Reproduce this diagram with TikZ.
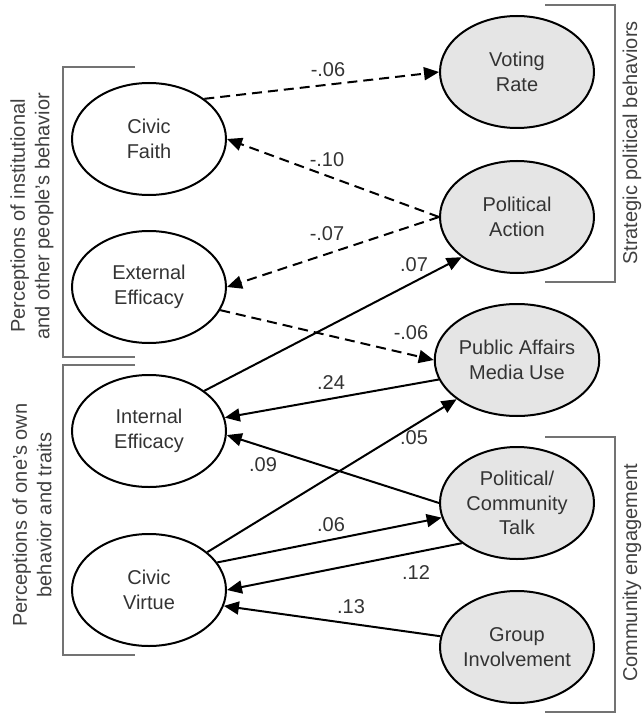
\documentclass[tikz,border=0pt]{standalone}
\usepackage{fontspec}
\setmainfont{Liberation Sans}
\usetikzlibrary{shapes.geometric,arrows.meta}
\begin{document}
\begin{tikzpicture}[x=1pt,y=-1pt,
  font=\fontsize{20}{24.5}\selectfont,
  var/.style={ellipse,draw,line width=2pt,minimum width=154pt,minimum height=112pt,inner sep=0pt,align=center,text=black!80},
  dep/.style={var,fill=black!10},
  causal/.style={line width=2pt,-{Triangle[length=15pt,width=13pt]}},
  neg/.style={causal,dash pattern=on 10pt off 6pt},
  coef/.style={inner sep=0pt,text=black!80},
  brk/.style={draw=black!55,line width=1.6pt},
  grp/.style={rotate=90,align=center,text=black!75,inner sep=0pt}]
\useasboundingbox (0,0) rectangle (642,714);

% brackets
\draw[brk] (135,67) -- (63,67) -- (63,357) -- (135,357);
\draw[brk] (135,365) -- (63,365) -- (63,655) -- (135,655);
\draw[brk] (545,5) -- (615,5) -- (615,282) -- (545,282);
\draw[brk] (545,437) -- (615,437) -- (615,712) -- (545,712);

% group labels
\node[grp] (g1) at (32,216) {Perceptions of institutional\\and other people’s behavior};
\node[grp] (g2) at (32,515) {Perceptions of one’s own\\behavior and traits};
\node[grp,anchor=base] (g3) at (637,143) {Strategic political behaviors};
\node[grp,anchor=base] (g4) at (637,573) {Community engagement};

% variables
\node[var] (cf) at (149,139) {Civic\\Faith};
\node[var] (ee) at (149,287) {External\\Efficacy};
\node[var] (ie) at (149,431) {Internal\\Efficacy};
\node[var] (cv) at (149,590) {Civic\\Virtue};
\node[dep] (vr) at (517,72) {Voting\\Rate};
\node[dep] (pa) at (517,217) {Political\\Action};
\node[dep] (pam) at (517,360) {Public Affairs\\Media Use};
\node[dep] (talk) at (517,503) {Political/\\Community\\Talk};
\node[dep] (gi) at (517,647) {Group\\Involvement};

% paths
\draw[neg] (cf.36) -- (vr.west);
\draw[neg] (pa.west) -- (cf.east);
\draw[neg] (pa.west) -- (ee.east);
\draw[neg] (ee.-18) -- (pam.west);
\draw[causal] (ie.36) -- (pa.216);
\draw[causal] (pam.194) -- (ie.10);
\draw[causal] (talk.west) -- (ie.-3);
\draw[causal] (cv.33) -- (pam.213);
\draw[causal] (cv.22) -- (talk.191);
\draw[causal] (talk.216) -- (cv.east);
\draw[causal] (gi.172) -- (cv.-12);

% coefficients
\node[coef] (c1) at (328,70) {-.06};
\node[coef] (c2) at (327,160) {-.10};
\node[coef] (c3) at (327,234) {-.07};
\node[coef] (c4) at (414,265) {.07};
\node[coef] (c5) at (411,333) {-.06};
\node[coef] (c6) at (331,383) {.24};
\node[coef] (c7) at (414,438) {.05};
\node[coef] (c8) at (263,465) {.09};
\node[coef] (c9) at (331,525) {.06};
\node[coef] (c10) at (416,573) {.12};
\node[coef] (c11) at (351,607) {.13};
\end{tikzpicture}
\end{document}
